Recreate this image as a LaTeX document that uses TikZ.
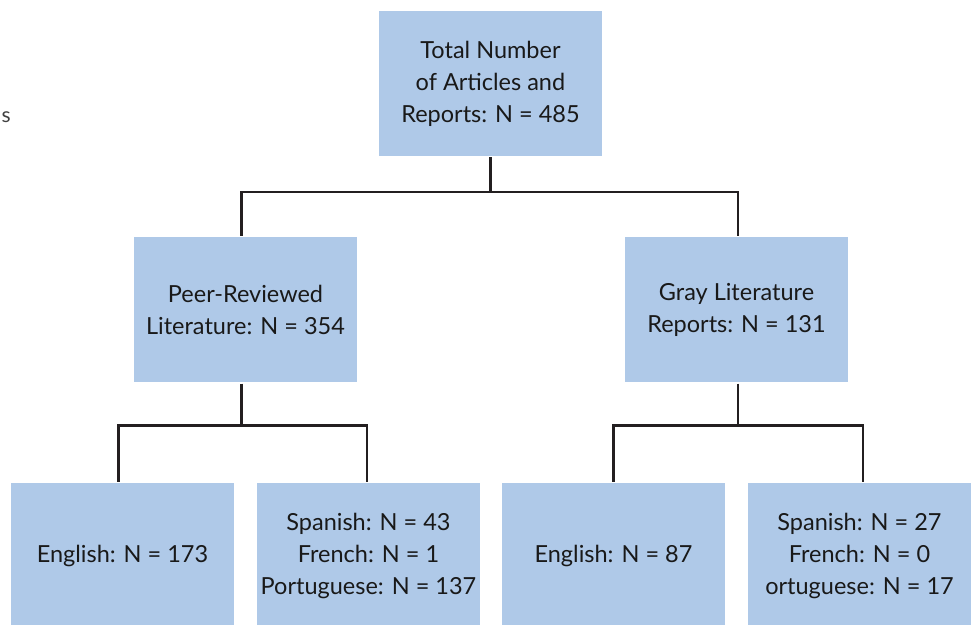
\documentclass[tikz,border=0pt]{standalone}
\usepackage{xcolor}
\usepackage{fontspec}
\setmainfont{Lato}
\usepackage{tikz}
\usetikzlibrary{calc}
\usetikzlibrary{positioning}
\definecolor{boxblue}{RGB}{175,201,232}
\definecolor{linegray}{RGB}{35,31,32}

\begin{document}
\begin{tikzpicture}[-,x=1pt,y=1pt,line width=2.4pt]
		\tikzstyle{every box}=[fill=boxblue, draw=none, text=black!90, align=center, inner sep=0pt, minimum width=223pt, minimum height=145pt, font=\fontsize{23.5}{32}\selectfont]
		\tikzstyle{tree}=[draw=linegray, line width=2.4pt]
			\useasboundingbox (0,0) rectangle (974,624);
			\node[anchor=west, font=\fontsize{21}{24}\selectfont, text=black!75] (cut) at (-3,507) {s};
				 \node[every box] (total) at (490.5,540.5) {Total Number\\of Articles and\\Reports: N = 485};
				 \node[every box] (peer) at (245.5,314) {Peer-Reviewed\\Literature: N = 354};
				 \node[every box] (gray) at (736.5,314) {Gray Literature\\Reports: N = 131};
				 \node[every box] (peeren) at (122.5,68.5) {English: N = 173};
				 \node[every box] (peerot) at (368.5,68.5) {Spanish: N = 43\\French: N = 1\\Portuguese: N = 137};
				 \node[every box] (grayen) at (613.5,68.5) {English: N = 87};
				 \node[every box] (grayot) at (859.5,68.5) {Spanish: N = 27\\French: N = 0\\ortuguese: N = 17};
				 % first split
				 \draw[tree] (total.south) -- ++(0,-35) coordinate (j1);
				 \draw[tree] (j1) -| ([xshift=-4pt]peer.north);
				 \draw[tree] (j1) -| ([xshift=1.5pt]gray.north);
				 % second split
				 \draw[tree] ([xshift=-4pt]peer.south) -- ++(0,-42) coordinate (j2);
				 \draw[tree] (j2) -| ([xshift=-4pt]peeren.north);
				 \draw[tree] (j2) -| ([xshift=-1.5pt]peerot.north);
				 \draw[tree] ([xshift=1.5pt]gray.south) -- ++(0,-42) coordinate (j3);
				 \draw[tree] (j3) -| (grayen.north);
				 \draw[tree] (j3) -| ([xshift=3.5pt]grayot.north);
\end{tikzpicture}
\end{document}
